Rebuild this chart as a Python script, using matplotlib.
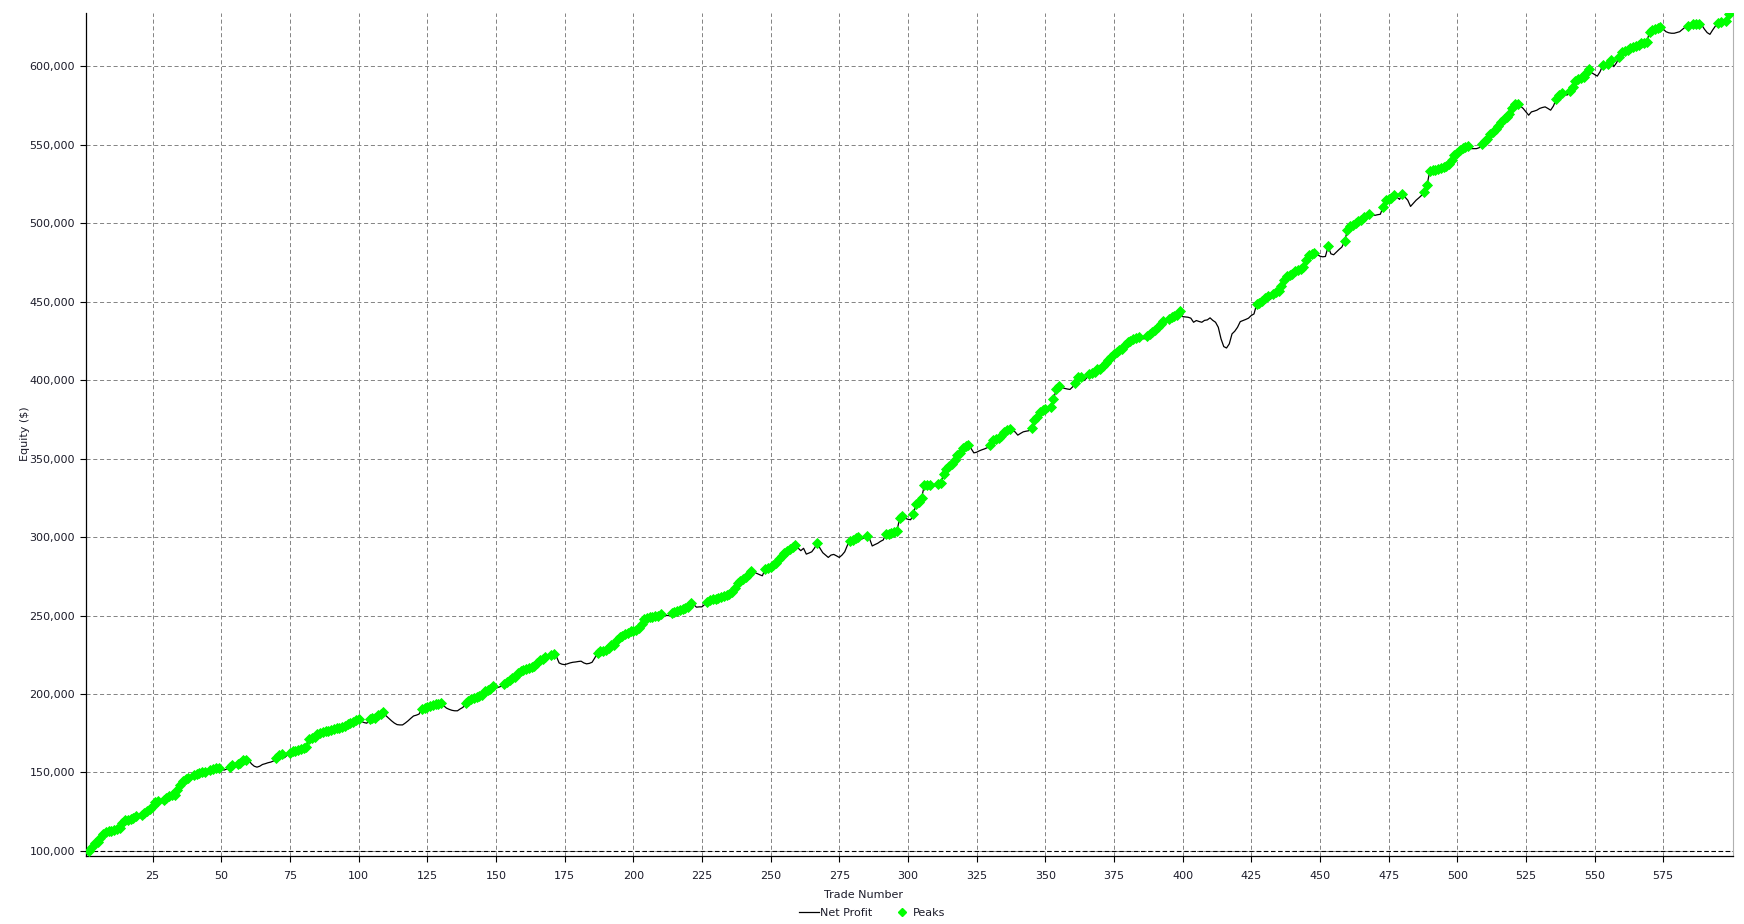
import numpy as np
import matplotlib
matplotlib.use('Agg')
from matplotlib import pyplot as plt
from matplotlib.lines import Line2D
from matplotlib.ticker import FuncFormatter

# equity after each trade, in thousands of $
equity_k = [
    97.4, 100.0, 102.5, 104.9, 106.0, 108.5, 110.7, 112.4, 112.6, 113.0,
    113.5, 114.0, 114.5, 117.7, 119.9, 120.0, 120.3, 121.2, 122.0, 121.6,
    123.0, 124.0, 125.2, 126.8, 128.4, 131.0, 131.6, 131.2, 132.4, 133.8,
    134.8, 135.5, 135.9, 139.1, 142.3, 144.4, 145.6, 146.6, 145.5, 148.3,
    149.0, 149.6, 150.4, 150.6, 150.2, 151.9, 152.3, 152.8, 153.0, 152.4,
    151.5, 152.2, 153.2, 154.5, 154.3, 155.3, 156.2, 157.9, 158.0, 157.7,
    155.5, 154.0, 153.4, 154.0, 155.1, 155.6, 156.2, 156.6, 157.3, 159.4,
    161.3, 162.0, 159.4, 161.0, 162.6, 163.7, 163.9, 164.1, 164.8, 165.8,
    166.5, 171.2, 172.0, 172.7, 174.8, 175.4, 176.1, 176.3, 176.6, 177.2,
    177.6, 178.2, 178.6, 179.2, 179.7, 180.8, 181.5, 182.3, 183.2, 184.0,
    182.5, 181.8, 181.4, 184.3, 184.6, 185.0, 186.8, 187.5, 188.3, 186.1,
    184.5, 182.9, 181.5, 180.5, 180.3, 180.3, 181.5, 182.9, 184.5, 186.0,
    186.5, 187.2, 190.4, 191.2, 191.8, 192.1, 192.8, 193.6, 193.8, 194.0,
    192.5, 191.0, 190.2, 189.6, 189.3, 189.3, 190.5, 191.5, 194.2, 195.5,
    196.5, 197.3, 198.0, 198.5, 199.5, 201.7, 202.5, 203.2, 205.3, 203.8,
    204.3, 205.0, 206.6, 207.8, 208.7, 210.2, 210.9, 213.4, 214.5, 215.5,
    216.0, 216.6, 217.2, 217.7, 219.8, 221.5, 222.6, 223.6, 223.0, 225.1,
    225.5, 224.0, 219.8, 219.0, 218.7, 219.2, 219.8, 220.2, 220.4, 220.7,
    220.9, 219.8, 219.2, 219.5, 220.2, 223.0, 226.2, 227.2, 227.5, 227.9,
    229.4, 230.9, 231.5, 234.7, 236.4, 236.8, 238.2, 238.9, 240.0, 240.3,
    240.6, 242.1, 244.3, 247.9, 248.5, 248.9, 249.2, 249.6, 250.0, 251.1,
    250.0, 250.0, 250.0, 251.7, 252.2, 252.8, 253.6, 254.3, 255.0, 255.5,
    257.7, 257.0, 255.3, 255.5, 255.5, 257.0, 258.4, 259.6, 260.2, 260.8,
    261.3, 261.9, 262.4, 263.0, 264.0, 265.1, 267.7, 270.4, 271.8, 273.2,
    274.8, 276.4, 278.3, 277.5, 276.8, 276.0, 275.3, 279.4, 280.4, 281.0,
    282.0, 283.6, 285.7, 287.9, 290.0, 291.0, 292.5, 293.4, 294.7, 293.0,
    291.3, 292.8, 289.1, 289.8, 290.6, 293.0, 296.0, 292.8, 290.0, 288.5,
    287.0, 288.5, 288.9, 288.0, 287.0, 288.5, 290.6, 294.9, 297.5, 298.1,
    299.1, 299.8, 298.5, 299.5, 300.6, 299.1, 294.3, 295.2, 296.0, 297.2,
    298.1, 301.9, 302.1, 302.3, 303.4, 304.0, 311.9, 313.4, 311.9, 311.3,
    311.0, 314.5, 321.3, 322.3, 325.1, 333.0, 333.2, 333.4, 332.3, 333.0,
    333.6, 334.5, 340.4, 343.6, 345.5, 346.8, 348.9, 352.1, 353.6, 357.0,
    358.0, 358.5, 356.4, 353.6, 354.0, 354.9, 355.6, 356.2, 357.0, 358.8,
    361.7, 362.3, 362.8, 364.2, 367.0, 368.0, 369.1, 367.7, 367.0, 364.9,
    366.0, 367.0, 367.4, 367.7, 369.4, 374.5, 376.2, 379.8, 380.6, 381.3,
    379.8, 383.0, 387.7, 394.0, 396.2, 395.3, 394.7, 394.3, 394.0, 395.7,
    398.3, 401.7, 402.1, 399.6, 401.1, 403.8, 404.3, 405.3, 406.8, 407.0,
    408.9, 411.1, 412.8, 414.5, 416.5, 417.7, 419.0, 419.8, 422.5, 424.0,
    425.1, 426.2, 426.8, 427.2, 426.8, 426.2, 428.3, 429.4, 430.4, 431.9,
    434.0, 436.0, 437.9, 437.2, 438.9, 440.0, 441.0, 441.7, 443.8, 440.4,
    440.2, 440.0, 439.4, 436.8, 437.9, 437.3, 436.8, 438.0, 438.3, 439.6,
    438.0, 436.8, 433.6, 426.2, 421.3, 420.4, 423.0, 429.4, 431.1, 433.6,
    437.2, 437.9, 438.6, 439.4, 441.1, 442.1, 448.5, 449.2, 450.6, 452.3,
    453.8, 451.3, 454.9, 455.8, 456.6, 460.2, 463.8, 466.0, 467.0, 467.7,
    469.4, 470.2, 470.9, 471.9, 476.2, 479.4, 480.4, 480.9, 480.0, 478.9,
    478.5, 478.7, 485.1, 480.4, 479.8, 481.5, 483.2, 484.7, 488.5, 495.3,
    497.9, 499.0, 500.0, 501.3, 501.7, 503.8, 503.5, 505.9, 505.4, 504.9,
    505.3, 505.6, 510.2, 514.9, 515.5, 516.2, 517.6, 516.5, 515.1, 518.7,
    516.5, 514.5, 510.6, 512.5, 514.5, 516.0, 517.6, 519.8, 524.0, 533.2,
    533.5, 534.0, 534.6, 535.1, 535.8, 536.4, 537.9, 540.4, 543.2, 544.8,
    546.4, 548.1, 548.5, 548.9, 547.4, 547.4, 547.4, 548.0, 550.2, 552.0,
    553.8, 556.6, 558.1, 559.6, 561.7, 564.5, 566.0, 567.7, 569.4, 573.0,
    575.7, 576.0, 574.5, 573.0, 570.8, 568.7, 570.8, 571.3, 571.9, 573.0,
    573.6, 574.0, 573.0, 571.9, 574.5, 578.7, 581.5, 582.6, 582.1, 581.5,
    584.3, 586.8, 590.6, 591.5, 592.1, 593.2, 595.3, 597.9, 595.7, 594.6,
    593.6, 596.4, 600.6, 599.6, 601.3, 603.8, 599.6, 602.1, 606.0, 608.7,
    609.5, 610.2, 611.7, 612.3, 613.0, 613.7, 614.5, 615.0, 615.5, 621.5,
    623.0, 623.5, 624.0, 625.1, 623.5, 621.9, 621.2, 620.9, 620.9, 621.4,
    621.9, 623.4, 624.8, 625.5, 625.1, 626.6, 626.7, 626.8, 626.2, 623.5,
    621.3, 620.2, 623.0, 625.5, 627.7, 628.3, 626.8, 628.6, 633.2,
]
start_equity = 100000
x_ticks = list(range(25, 600, 25))
y_ticks = list(range(100000, 650000, 50000))

equity = np.array(equity_k) * 1000
trades = np.arange(1, len(equity) + 1)
prior_max = np.maximum.accumulate(np.r_[start_equity, equity])[:-1]
is_peak = equity >= prior_max

plt.rcParams['font.family'] = ['DejaVu Sans']
txt_color = '#1c1c2a'

fig = plt.figure(figsize=(17.44, 9.24), dpi=100)
ax = fig.add_axes([86 / 1744, 68 / 924, 1647 / 1744, 843 / 924])

ax.plot(trades, equity, color='black', lw=0.9, zorder=3)
ax.plot(trades[is_peak], equity[is_peak], ls='none', marker='D', ms=4.8,
        color='#00ff00', mec='#00ff00', mew=0.6, zorder=4)
ax.axhline(start_equity, color='black', lw=0.8, ls=(0, (4, 2.5)), zorder=2)

ax.set_xlim(0.75, 600.4)
ax.set_ylim(96800, 633800)
ax.set_xticks(x_ticks)
ax.set_yticks(y_ticks)
ax.yaxis.set_major_formatter(FuncFormatter(lambda v, p: '{:,.0f}'.format(v)))
ax.grid(True, color='#7a7a7a', lw=0.65, ls=(0, (4.5, 3)))
ax.set_axisbelow(True)
ax.tick_params(axis='both', direction='out', length=4.5, width=0.8,
               labelsize=8, labelcolor=txt_color)
ax.tick_params(axis='x', pad=6)
ax.tick_params(axis='y', pad=3.5)

ax.spines['top'].set_visible(False)
ax.spines['right'].set_color('#b0b0b0')
ax.spines['right'].set_linewidth(0.8)
ax.spines['left'].set_linewidth(0.9)
ax.spines['bottom'].set_linewidth(0.9)

fig.text(25 / 1744, 1 - 434 / 924, 'Equity ($)', rotation=90, ha='center',
         va='center', fontsize=8, color=txt_color)
fig.text(863.5 / 1744, 1 - 895 / 924, 'Trade Number', ha='center',
         va='center', fontsize=8, color=txt_color)

handles = [Line2D([], [], color='black', lw=0.9),
           Line2D([], [], ls='none', marker='D', ms=4.3, color='#00ff00')]
fig.legend(handles, ['Net Profit', 'Peaks'], loc='center', ncol=2,
           bbox_to_anchor=(872 / 1744, 1 - 913 / 924), frameon=False,
           fontsize=8, handlelength=1.8, handletextpad=0.1,
           columnspacing=1.8, labelcolor=txt_color)

fig.savefig('out.png', dpi=100)
